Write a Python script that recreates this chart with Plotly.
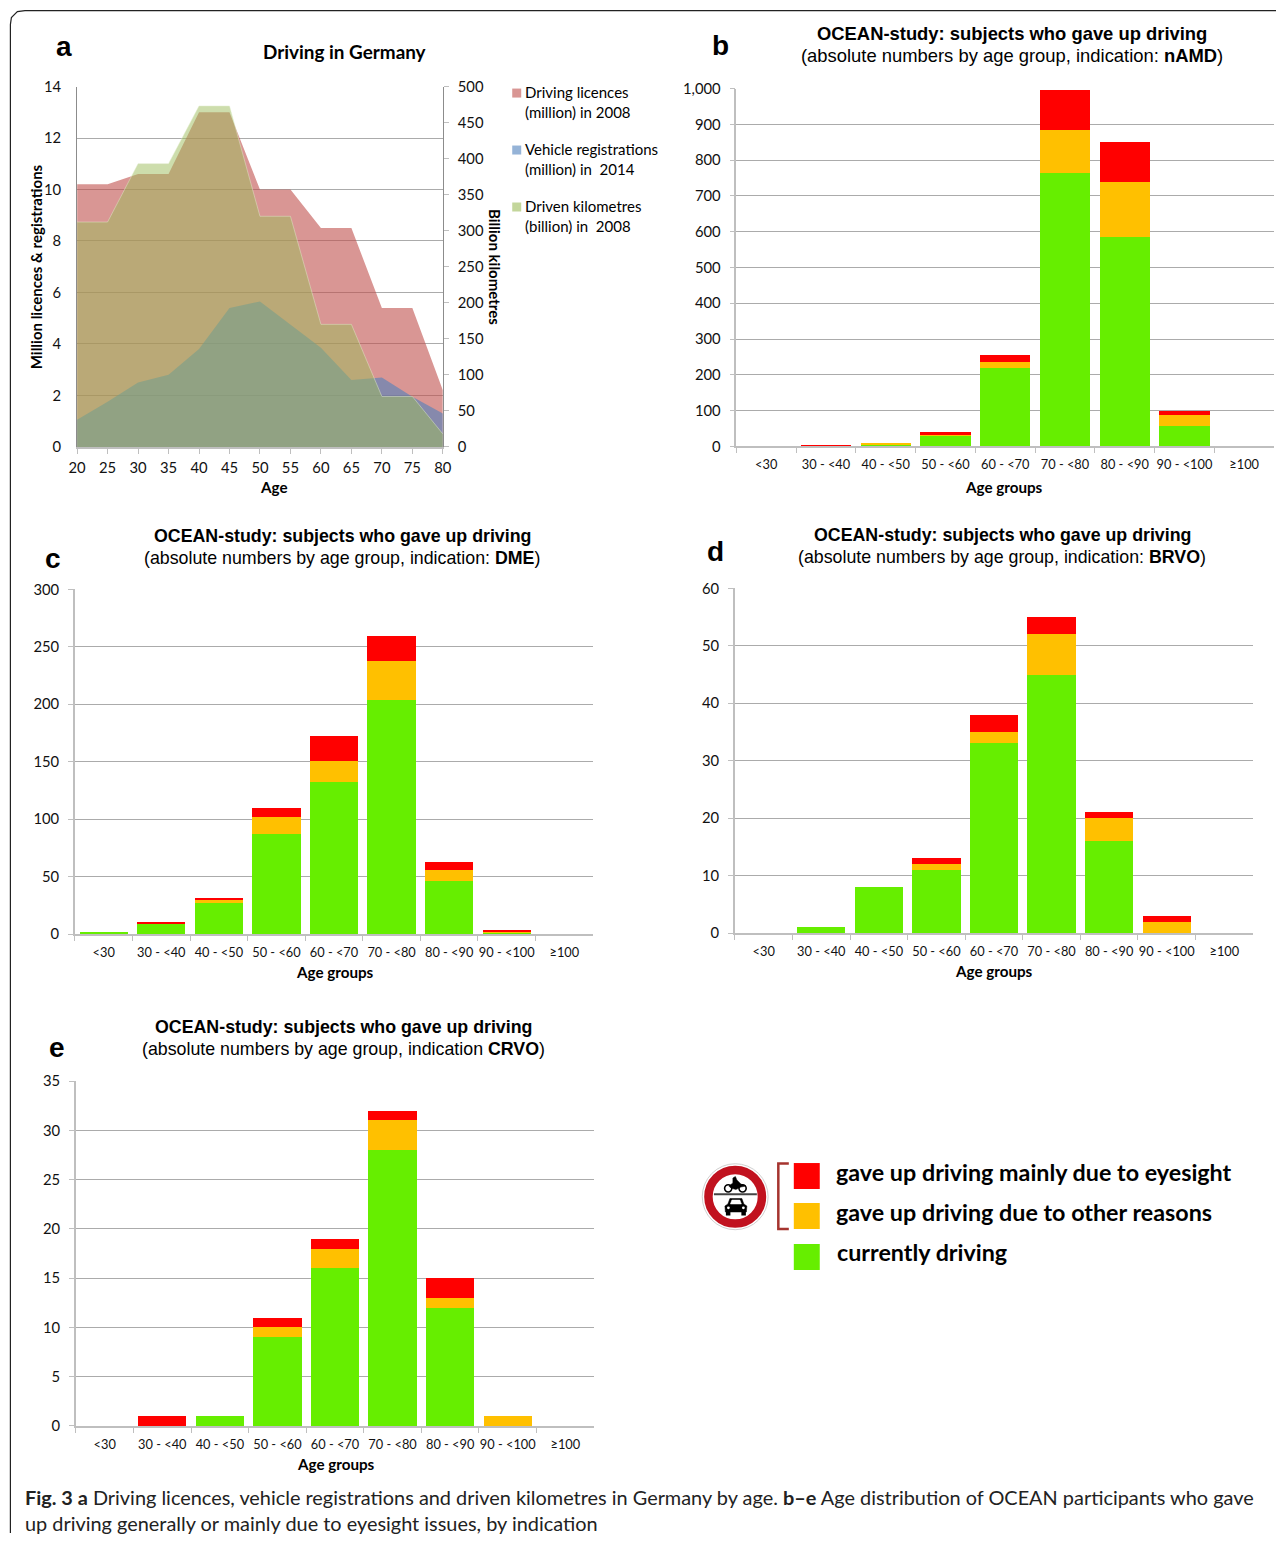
import plotly.graph_objects as go

# The picture is inset and scaled, so reference pixels are mapped through these constants.
W, H = 1285, 1541
INSET_X, INSET_Y = 8.0, 9.4
SX, SY = 0.9875, 0.9888

# ---------- data ----------
ages = [20, 25, 30, 35, 40, 45, 50, 55, 60, 65, 70, 75, 80]
licences = [10.2, 10.2, 10.6, 10.6, 13.0, 13.0, 10.0, 10.0, 8.5, 8.5, 5.4, 5.4, 2.2]
registrations = [1.05, 1.75, 2.5, 2.8, 3.8, 5.4, 5.65, 4.75, 3.85, 2.6, 2.7, 1.95, 1.3]
kilometres = [312, 312, 393, 393, 473, 473, 320, 320, 170, 170, 70, 70, 18]

groups = ["<30", "30 - <40", "40 - <50", "50 - <60", "60 - <70", "70 - <80", "80 - <90", "90 - <100", "≥100"]

namd_driving = [0, 2, 7, 32, 220, 763, 585, 58, 2]
namd_other = [0, 1, 1, 3, 15, 120, 155, 30, 0]
namd_eyesight = [0, 2, 0, 5, 20, 112, 110, 12, 0]

dme_driving = [1, 9, 27, 87, 132, 204, 46, 1, 0]
dme_other = [0, 0, 3, 15, 19, 34, 10, 1, 0]
dme_eyesight = [0, 2, 1, 8, 21, 21, 7, 1, 0]

brvo_driving = [0, 1, 8, 11, 33, 45, 16, 0, 0]
brvo_other = [0, 0, 0, 1, 2, 7, 4, 2, 0]
brvo_eyesight = [0, 0, 0, 1, 3, 3, 1, 1, 0]

crvo_driving = [0, 0, 1, 9, 16, 28, 12, 0, 0]
crvo_other = [0, 0, 0, 1, 2, 3, 1, 1, 0]
crvo_eyesight = [0, 1, 0, 1, 1, 1, 2, 0, 0]

# ---------- styles ----------
GREEN, ORANGE, RED = "#66EE00", "#FFC000", "#FF0000"
GRID = "#ABABAB"
AXIS = "#BFBFBF"
CAL = "Lato, Open Sans, sans-serif"
SANS = "Liberation Sans, Arial, sans-serif"
TICK_Y = dict(family=CAL, size=14.8, color="#111111")
TICK_X = dict(family=CAL, size=12.8, color="#111111")


def px(x):
    return min(1, max(0, (x - INSET_X) / SX / W))


def py(y):
    return min(1, max(0, 1 - (y - INSET_Y) / SY / H))


fig = go.Figure()
shapes = []
annotations = []


def text(x, y, s, size=13, family=CAL, anchor="left", angle=0, color="#000000"):
    annotations.append(dict(x=px(x), y=py(y - 0.7), xref="paper", yref="paper", text=s, showarrow=False,
                            xanchor=anchor, yanchor="middle", textangle=angle, align=anchor,
                            font=dict(family=family, size=size, color=color)))


def rect(x0, y0, x1, y1, fill):
    shapes.append(dict(type="rect", xref="paper", yref="paper", x0=px(x0), x1=px(x1), y0=py(y0), y1=py(y1),
                       fillcolor=fill, line=dict(width=0)))


def path(points, close=False, fill=None, color="#000000", width=1.0):
    d = "M " + " L ".join(f"{px(a):.5f},{py(b):.5f}" for a, b in points) + (" Z" if close else "")
    shapes.append(dict(type="path", xref="paper", yref="paper", path=d, fillcolor=fill,
                       line=dict(color=color, width=width)))


def ellipse(cx, cy, r, fill, color=None, width=0):
    shapes.append(dict(type="circle", xref="paper", yref="paper", x0=px(cx - r), x1=px(cx + r),
                       y0=py(cy + r), y1=py(cy - r), fillcolor=fill,
                       line=dict(color=color or fill, width=width)))


# ---------- panel a ----------
fig.add_trace(go.Scatter(x=ages, y=licences, mode="lines", line=dict(width=0), fill="tozeroy",
                         fillcolor="rgba(192,80,77,0.6)", name="Driving licences", xaxis="x", yaxis="y"))
fig.add_trace(go.Scatter(x=ages, y=registrations, mode="lines", line=dict(width=0), fill="tozeroy",
                         fillcolor="rgba(79,129,189,0.6)", name="Vehicle registrations", xaxis="x", yaxis="y"))
fig.add_trace(go.Scatter(x=ages, y=kilometres, mode="lines", line=dict(width=0.6, color="rgba(225,235,205,0.8)"),
                         fill="tozeroy", fillcolor="rgba(155,187,89,0.5)", name="Driven kilometres",
                         xaxis="x", yaxis="y2"))

axes = dict(
    xaxis=dict(domain=[px(76.2), px(442.5)], anchor="y", range=[20, 80], tickvals=ages, ticks="outside", ticklen=5,
               tickcolor=AXIS, linecolor=AXIS, linewidth=1.5, showline=True, showgrid=False, tickfont=TICK_Y,
               ticklabelstandoff=2, zeroline=False),
    yaxis=dict(domain=[py(446.5), py(86)], anchor="x", range=[0, 14], dtick=2, ticks="", gridcolor=GRID, gridwidth=1,
               linecolor="#8C8C8C", showline=True, tickfont=TICK_Y, ticklabelstandoff=12, zeroline=False),
    yaxis2=dict(domain=[py(446.5), py(86)], anchor="x", overlaying="y", side="right", range=[0, 500], dtick=50,
                ticks="outside", ticklen=5, tickcolor=AXIS, linecolor="#8C8C8C", showline=True, showgrid=False,
                tickfont=TICK_Y, ticklabelstandoff=6, zeroline=False),
)

text(344, 52, "<b>Driving in Germany</b>", size=18.9, anchor="center")
text(34.5, 267, "<b>Million licences &amp; registrations</b>", size=15, anchor="center", angle=-90)
text(494.5, 267, "<b>Billion kilometres</b>", size=15, anchor="center", angle=90)
text(273, 487, "<b>Age</b>", size=15.2, anchor="center")
text(63, 47, "<b>a</b>", size=28, family=SANS, anchor="center")

for (y0, fill, label) in [(88, "#D99694", "Driving licences<br>(million) in 2008"),
                          (145, "#95B3D7", "Vehicle registrations<br>(million) in  2014"),
                          (202, "#C3D69B", "Driven kilometres<br>(billion) in  2008")]:
    rect(512, y0, 521, y0 + 9, fill)
    text(523, y0 + 14, label, size=15)

# ---------- panels b-e ----------
panels = [
    ("2", (736.5, 1275), (88, 446), [0, 1000], 100, ",d", namd_driving, namd_other, namd_eyesight,
     (1013, 34), "(absolute numbers by age group, indication: <b>nAMD</b>)", (1005, 487), ("b", 721, 46), 18.4),
    ("3", (74, 593), (589, 934), [0, 300], 50, "d", dme_driving, dme_other, dme_eyesight,
     (342, 536), "(absolute numbers by age group, indication: <b>DME</b>)", (334, 973), ("c", 52, 559), 17.8),
    ("4", (735, 1254), (588, 933), [0, 60], 10, "d", brvo_driving, brvo_other, brvo_eyesight,
     (1003, 535), "(absolute numbers by age group, indication: <b>BRVO</b>)", (995, 972), ("d", 716, 552), 17.8),
    ("5", (75, 594), (1081, 1426), [0, 35], 5, "d", crvo_driving, crvo_other, crvo_eyesight,
     (343, 1028), "(absolute numbers by age group, indication <b>CRVO</b>)", (335, 1465), ("e", 56, 1048), 17.8),
]

for n, xr, yr, rng, dt, fmt, drv, oth, eye, tpos, sub, xpos, letter, tsize in panels:
    yn = str(int(n) + 1)
    for vals, col, name in [(drv, GREEN, "currently driving"),
                            (oth, ORANGE, "gave up driving due to other reasons"),
                            (eye, RED, "gave up driving mainly due to eyesight")]:
        fig.add_trace(go.Bar(x=groups, y=vals, marker=dict(color=col, line=dict(width=0)), name=name,
                             xaxis="x" + n, yaxis="y" + yn))
    axes["xaxis" + n] = dict(domain=[px(xr[0]), px(xr[1])], anchor="y" + yn, type="category",
                             categoryorder="array", categoryarray=groups, tickson="boundaries",
                             ticks="outside", ticklen=5, tickcolor=AXIS, linecolor=AXIS, linewidth=1.5, showline=True,
                             showgrid=False, tickfont=TICK_X, ticklabelstandoff=6, tickangle=0)
    axes["yaxis" + yn] = dict(domain=[py(yr[1]), py(yr[0])], anchor="x" + n, range=rng, dtick=dt, tickformat=fmt,
                              ticks="outside", ticklen=5, tickcolor=AXIS, gridcolor=GRID, gridwidth=1,
                              linecolor=AXIS, linewidth=1.5, showline=True, tickfont=TICK_Y, ticklabelstandoff=6,
                              zeroline=False)
    text(tpos[0], tpos[1], "<b>OCEAN-study: subjects who gave up driving</b>", size=tsize, family=SANS, anchor="center")
    text(tpos[0], tpos[1] + 22, sub, size=tsize, family=SANS, anchor="center")
    text(xpos[0], xpos[1], "<b>Age groups</b>", size=15.2, anchor="center")
    text(letter[1], letter[2], f"<b>{letter[0]}</b>", size=28, family=SANS, anchor="center")

# ---------- key with the no-vehicles sign ----------
ellipse(735.3, 1196.7, 33, "#FFFFFF", "#D0D0D0", 1)
ellipse(735.3, 1196.7, 26.8, "#FFFFFF", "#C1121F", 8.5)
path([(714, 1194.3), (757, 1194.3)], color="#444444", width=2)
# motorcycle
ellipse(728.3, 1188.3, 3.6, "#FFFFFF", "#000000", 1.6)
ellipse(742.7, 1188.3, 3.6, "#FFFFFF", "#000000", 1.6)
path([(729, 1186), (733, 1183), (733, 1178), (735.5, 1176.5), (737, 1180), (741, 1184), (746, 1186),
      (741, 1187), (736, 1189.5), (731, 1188)], close=True, fill="#000000", color="#000000", width=0.5)
# car
path([(725.5, 1212), (725, 1206), (728, 1204), (730, 1198.5), (742, 1198.5), (744, 1204), (747, 1206), (746.5, 1212)],
     close=True, fill="#000000", color="#000000", width=0.5)
path([(730.5, 1204), (732, 1200), (740, 1200), (741.5, 1204)], close=True, fill="#FFFFFF", color="#FFFFFF", width=0.5)
rect(726, 1212, 730.5, 1215.5, "#000000")
rect(741.5, 1212, 746, 1215.5, "#000000")
ellipse(728.5, 1207.8, 1.4, "#FFFFFF")
ellipse(743.5, 1207.8, 1.4, "#FFFFFF")
# bracket
path([(789, 1163.5), (778.5, 1163.5), (778.5, 1229), (789, 1229)], color="#A5342F", width=2.5)

rect(794, 1163, 820, 1189, "#FF0000")
rect(794, 1203, 820, 1229, "#FFC000")
rect(794, 1244, 820, 1270, "#66EE00")
text(834, 1173, "<b>gave up driving mainly due to eyesight</b>", size=23.3)
text(834, 1213, "<b>gave up driving due to other reasons</b>", size=23.3)
text(835.5, 1253, "<b>currently driving</b>", size=23.3)

# ---------- caption ----------
text(22, 1498, "<b>Fig. 3 a</b> Driving licences, vehicle registrations and driven kilometres in Germany by age. "
               "<b>b–e</b> Age distribution of OCEAN participants who gave", size=19.9, color="#222222")
text(22, 1524, "up driving generally or mainly due to eyesight issues, by indication", size=19.9, color="#222222")

# ---------- page frame ----------
path([(9.4, 1541), (9.4, 24), (10.4, 17), (16.4, 11), (24, 10), (1285, 10)], color="#222222", width=1.2)

fig.update_layout(width=W, height=H, margin=dict(l=0, r=0, t=0, b=0), paper_bgcolor="#FFFFFF",
                  plot_bgcolor="rgba(0,0,0,0)", barmode="stack", bargap=0.16, showlegend=False,
                  shapes=shapes, annotations=annotations, **axes)

fig.write_html("out.html", config=dict(displayModeBar=False),
               post_script="document.body.style.margin='0';document.body.style.overflow='hidden';")
